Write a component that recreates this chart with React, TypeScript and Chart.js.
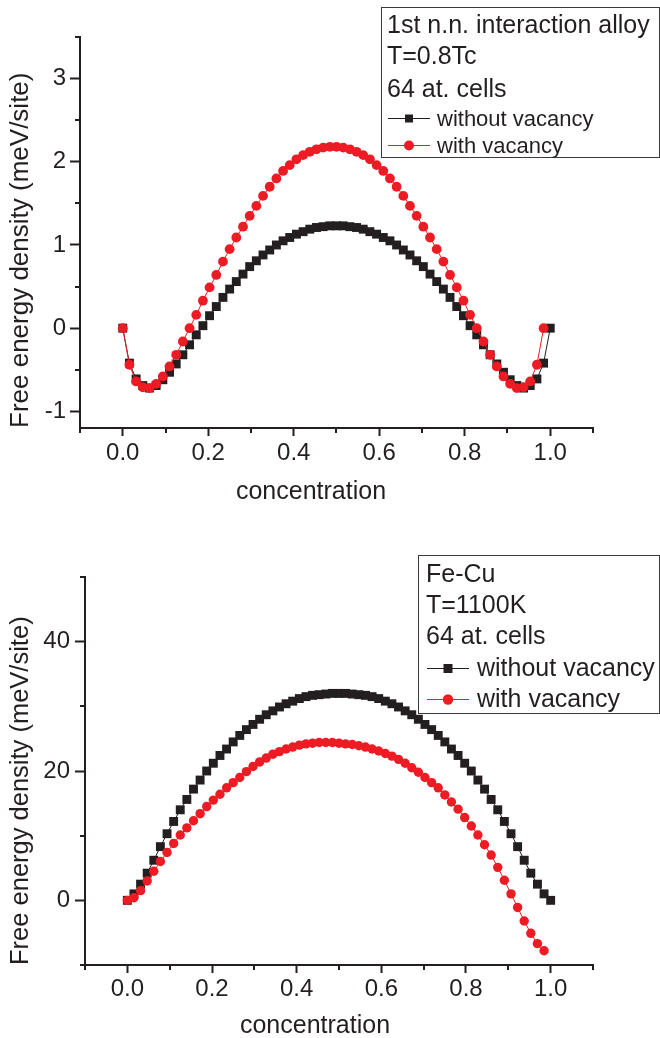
import React, { useEffect, useRef } from 'react';
import { Chart, registerables } from 'chart.js';

Chart.register(...registerables);

// ---------- data ----------
const concentration = [
  0, 0.0156, 0.0313, 0.0469, 0.0625, 0.0781, 0.0938, 0.1094, 0.125, 0.1406,
  0.1563, 0.1719, 0.1875, 0.2031, 0.2188, 0.2344, 0.25, 0.2656, 0.2813, 0.2969,
  0.3125, 0.3281, 0.3438, 0.3594, 0.375, 0.3906, 0.4063, 0.4219, 0.4375, 0.4531,
  0.4688, 0.4844, 0.5, 0.5156, 0.5313, 0.5469, 0.5625, 0.5781, 0.5938, 0.6094,
  0.625, 0.6406, 0.6563, 0.6719, 0.6875, 0.7031, 0.7188, 0.7344, 0.75, 0.7656,
  0.7813, 0.7969, 0.8125, 0.8281, 0.8438, 0.8594, 0.875, 0.8906, 0.9063, 0.9219,
  0.9375, 0.9531, 0.9688, 0.9844, 1.0,
];

const topWithoutVacancy = [
  0, -0.42, -0.61, -0.69, -0.72, -0.69, -0.62, -0.53, -0.43, -0.32,
  -0.2, -0.08, 0.03, 0.15, 0.26, 0.37, 0.47, 0.56, 0.65, 0.74,
  0.81, 0.88, 0.94, 1.0, 1.05, 1.09, 1.13, 1.16, 1.19, 1.21,
  1.22, 1.23, 1.23, 1.23, 1.22, 1.21, 1.19, 1.16, 1.13, 1.09,
  1.05, 1.0, 0.94, 0.88, 0.81, 0.74, 0.65, 0.56, 0.47, 0.37,
  0.26, 0.15, 0.03, -0.08, -0.2, -0.32, -0.43, -0.53, -0.62, -0.69,
  -0.72, -0.69, -0.61, -0.42, 0,
];

const topWithVacancy = [
  0, -0.44, -0.64, -0.71, -0.72, -0.67, -0.58, -0.46, -0.32, -0.16,
  0.0, 0.16, 0.33, 0.49, 0.64, 0.8, 0.95, 1.09, 1.22, 1.35,
  1.47, 1.59, 1.7, 1.8, 1.89, 1.96, 2.03, 2.08, 2.12, 2.15,
  2.17, 2.18, 2.18, 2.17, 2.15, 2.12, 2.08, 2.03, 1.96, 1.89,
  1.8, 1.7, 1.59, 1.47, 1.35, 1.22, 1.09, 0.95, 0.8, 0.64,
  0.49, 0.33, 0.16, 0.0, -0.16, -0.32, -0.46, -0.58, -0.67, -0.72,
  -0.71, -0.64, -0.44, 0,
];

const bottomWithoutVacancy = [
  0, 1.0, 2.5, 4.2, 6.2, 8.3, 10.3, 12.2, 14.0, 15.6,
  17.2, 18.6, 20.0, 21.2, 22.4, 23.4, 24.5, 25.5, 26.4, 27.2,
  28.0, 28.7, 29.3, 29.9, 30.4, 30.8, 31.2, 31.5, 31.7, 31.8,
  31.9, 32.0, 32.0, 32.0, 31.9, 31.8, 31.7, 31.5, 31.2, 30.8,
  30.4, 29.9, 29.3, 28.7, 28.0, 27.2, 26.4, 25.5, 24.5, 23.4,
  22.4, 21.2, 20.0, 18.6, 17.2, 15.6, 14.0, 12.2, 10.3, 8.3,
  6.2, 4.2, 2.5, 1.0, 0,
];

const bottomWithVacancy = [
  0, 0.4, 1.5, 3.0, 4.5, 6.0, 7.4, 8.8, 10.1, 11.2,
  12.3, 13.4, 14.5, 15.5, 16.4, 17.4, 18.2, 19.0, 19.9, 20.7,
  21.4, 22.0, 22.6, 23.0, 23.4, 23.7, 24.0, 24.2, 24.3, 24.4,
  24.4, 24.4, 24.3, 24.2, 24.1, 23.9, 23.7, 23.4, 23.1, 22.7,
  22.3, 21.8, 21.2, 20.5, 19.8, 19.0, 18.2, 17.4, 16.3, 15.2,
  14.1, 12.8, 11.5, 10.1, 8.6, 7.0, 5.1, 3.1, 1.0, -1.1,
  -3.2, -5.1, -6.7, -7.8,
];

const xTickValues = [0, 0.2, 0.4, 0.6, 0.8, 1.0];
const xMinorTicks = [-0.1, 0.1, 0.3, 0.5, 0.7, 0.9, 1.1];
const topYTicks = [-1, 0, 1, 2, 3];
const topYMinor = [-0.5, 0.5, 1.5, 2.5, 3.5];
const bottomYTicks = [0, 20, 40];
const bottomYMinor = [-10, 10, 30, 50];

const topLegendHeader = ['1st n.n. interaction alloy', 'T=0.8Tc', '64 at. cells'];
const bottomLegendHeader = ['Fe-Cu', 'T=1100K', '64 at. cells'];
const seriesLabels = ['without vacancy', 'with vacancy'];
const yTitle = 'Free energy density (meV/site)';
const xTitle = 'concentration';

// ---------- styles ----------
const INK = '#231f20';
const RED = '#ed1c24';
const FONT = '"Liberation Sans", Arial, sans-serif';
const W = 660;
const H = 519;

const panels = [
  {
    without: topWithoutVacancy,
    withV: topWithVacancy,
    yMin: -1.2,
    yMax: 3.5,
    yTicks: topYTicks,
    yMinor: topYMinor,
    header: topLegendHeader,
    padTop: 37,
    padRight: 67,
    yWidth: 80,
    xHeight: 91,
    yTickPad: 4,
    xTickPad: 5,
    yTitleSize: 26,
    yTitlePad: 8,
    xTitleX: 311,
    xTitleBase: 499,
    sqR: 6.3,
    circR: 4.9,
    legend: {
      box: [381, 7, 659, 157],
      headerX: 387,
      headerSize: 25,
      headerBase: [33, 64, 97],
      lineX: [388, 430],
      markerX: 409,
      textX: 437,
      entrySize: 22,
      entryBase: [126, 153],
      sq: 8,
      circ: 5,
    },
  },
  {
    without: bottomWithoutVacancy,
    withV: bottomWithVacancy,
    yMin: -10,
    yMax: 50,
    yTicks: bottomYTicks,
    yMinor: bottomYMinor,
    header: bottomLegendHeader,
    padTop: 58,
    padRight: 67,
    yWidth: 85,
    xHeight: 73,
    yTickPad: 5,
    xTickPad: 4,
    yTitleSize: 25.5,
    yTitlePad: 8,
    xTitleX: 315,
    xTitleBase: 514,
    sqR: 6.3,
    circR: 4.7,
    legend: {
      box: [418, 36, 659, 194],
      headerX: 426,
      headerSize: 25,
      headerBase: [63, 94, 125],
      lineX: [427, 469],
      markerX: 448,
      textX: 477,
      entrySize: 25,
      entryBase: [157, 188],
      sq: 9,
      circ: 5.2,
    },
  },
];

const decorPlugin = {
  id: 'panelDecor',
  afterDraw(chart: any, _args: any, opts: any) {
    const ctx = chart.ctx as CanvasRenderingContext2D;
    const xs = chart.scales.x;
    const ys = chart.scales.y;
    const area = chart.chartArea;
    ctx.save();
    // minor ticks
    ctx.strokeStyle = INK;
    ctx.lineWidth = 2;
    ctx.beginPath();
    for (const v of opts.xMinor) {
      const p = Math.round(xs.getPixelForValue(v));
      ctx.moveTo(p, area.bottom);
      ctx.lineTo(p, area.bottom + 5);
    }
    for (const v of opts.yMinor) {
      const p = Math.round(ys.getPixelForValue(v));
      ctx.moveTo(area.left, p);
      ctx.lineTo(area.left - 5, p);
    }
    ctx.stroke();

    // x axis title
    ctx.fillStyle = INK;
    ctx.font = `25px ${FONT}`;
    ctx.textAlign = 'center';
    ctx.textBaseline = 'alphabetic';
    ctx.fillText(opts.xTitle, opts.xTitleX, opts.xTitleBase);

    // legend
    const L = opts.legend;
    const [bl, bt, br, bb] = L.box;
    ctx.strokeStyle = '#3a3a3a';
    ctx.lineWidth = 1;
    ctx.strokeRect(bl + 0.5, bt + 0.5, br - bl, bb - bt);
    ctx.textAlign = 'left';
    ctx.fillStyle = INK;
    ctx.font = `${L.headerSize}px ${FONT}`;
    opts.header.forEach((line: string, i: number) => {
      ctx.fillText(line, L.headerX, L.headerBase[i]);
    });
    ctx.font = `${L.entrySize}px ${FONT}`;
    chart.data.datasets.forEach((ds: any, i: number) => {
      const base = L.entryBase[i];
      const my = base - 7.5;
      ctx.strokeStyle = ds.borderColor;
      ctx.lineWidth = 1;
      ctx.beginPath();
      ctx.moveTo(L.lineX[0], my);
      ctx.lineTo(L.lineX[1], my);
      ctx.stroke();
      ctx.fillStyle = ds.pointBackgroundColor;
      if (ds.pointStyle === 'rect') {
        ctx.fillRect(L.markerX - L.sq / 2, my - L.sq / 2, L.sq, L.sq);
      } else {
        ctx.beginPath();
        ctx.arc(L.markerX, my, L.circ, 0, Math.PI * 2);
        ctx.fill();
      }
      ctx.fillStyle = INK;
      ctx.fillText(ds.label, L.textX, base);
    });
    ctx.restore();
  },
};

function toPoints(xs: number[], ys: number[]) {
  return ys.map((y, i) => ({ x: xs[i], y }));
}

function buildConfig(p: any): any {
  return {
    type: 'scatter',
    data: {
      datasets: [
        {
          label: seriesLabels[0],
          data: toPoints(concentration, p.without),
          showLine: true,
          borderColor: INK,
          borderWidth: 1,
          pointStyle: 'rect',
          pointRadius: p.sqR,
          pointBackgroundColor: INK,
          pointBorderColor: INK,
          pointBorderWidth: 0,
          order: 1,
        },
        {
          label: seriesLabels[1],
          data: toPoints(concentration, p.withV),
          showLine: true,
          borderColor: RED,
          borderWidth: 1,
          pointStyle: 'circle',
          pointRadius: p.circR,
          pointBackgroundColor: RED,
          pointBorderColor: RED,
          pointBorderWidth: 0,
          order: 0,
        },
      ],
    },
    options: {
      animation: false,
      responsive: false,
      devicePixelRatio: 1,
      events: [],
      layout: { padding: { top: p.padTop, right: p.padRight, bottom: 0, left: 0 } },
      plugins: {
        legend: { display: false },
        tooltip: { enabled: false },
        panelDecor: {
          xMinor: xMinorTicks,
          yMinor: p.yMinor,
          xTitle,
          xTitleX: p.xTitleX,
          xTitleBase: p.xTitleBase,
          header: p.header,
          legend: p.legend,
        },
      },
      scales: {
        x: {
          type: 'linear',
          min: -0.1,
          max: 1.1,
          afterBuildTicks: (s: any) => {
            s.ticks = xTickValues.map((value) => ({ value }));
          },
          afterFit: (s: any) => {
            s.height = p.xHeight;
          },
          ticks: {
            callback: (v: any) => Number(v).toFixed(1),
            font: { family: FONT, size: 24, lineHeight: 1 },
            color: INK,
            padding: p.xTickPad,
            maxRotation: 0,
            autoSkip: false,
          },
          grid: {
            display: true,
            drawOnChartArea: false,
            drawTicks: true,
            tickLength: 8,
            tickWidth: 2,
            tickColor: INK,
          },
          border: { display: true, color: INK, width: 2 },
          title: { display: false },
        },
        y: {
          type: 'linear',
          min: p.yMin,
          max: p.yMax,
          afterBuildTicks: (s: any) => {
            s.ticks = p.yTicks.map((value: number) => ({ value }));
          },
          afterFit: (s: any) => {
            s.width = p.yWidth;
          },
          ticks: {
            callback: (v: any) => String(v),
            font: { family: FONT, size: 24, lineHeight: 1 },
            color: INK,
            padding: p.yTickPad,
            autoSkip: false,
          },
          grid: {
            display: true,
            drawOnChartArea: false,
            drawTicks: true,
            tickLength: 10,
            tickWidth: 2,
            tickColor: INK,
          },
          border: { display: true, color: INK, width: 2 },
          title: {
            display: true,
            text: yTitle,
            align: 'start',
            color: INK,
            font: { family: FONT, size: p.yTitleSize, lineHeight: 1 },
            padding: { top: p.yTitlePad, bottom: 0 },
          },
        },
      },
    },
    plugins: [decorPlugin],
  };
}

function Panel({ spec }: { spec: any }) {
  const ref = useRef<HTMLCanvasElement>(null);
  useEffect(() => {
    if (!ref.current) return;
    const chart = new Chart(ref.current, buildConfig(spec));
    return () => chart.destroy();
  }, [spec]);
  return (
    <canvas
      ref={ref}
      width={W}
      height={H}
      style={{ display: 'block', width: W, height: H }}
    />
  );
}

export default function App() {
  return (
    <div
      style={{
        position: 'absolute',
        left: 0,
        top: 0,
        width: 660,
        height: 1038,
        background: '#ffffff',
      }}
    >
      <Panel spec={panels[0]} />
      <Panel spec={panels[1]} />
    </div>
  );
}
